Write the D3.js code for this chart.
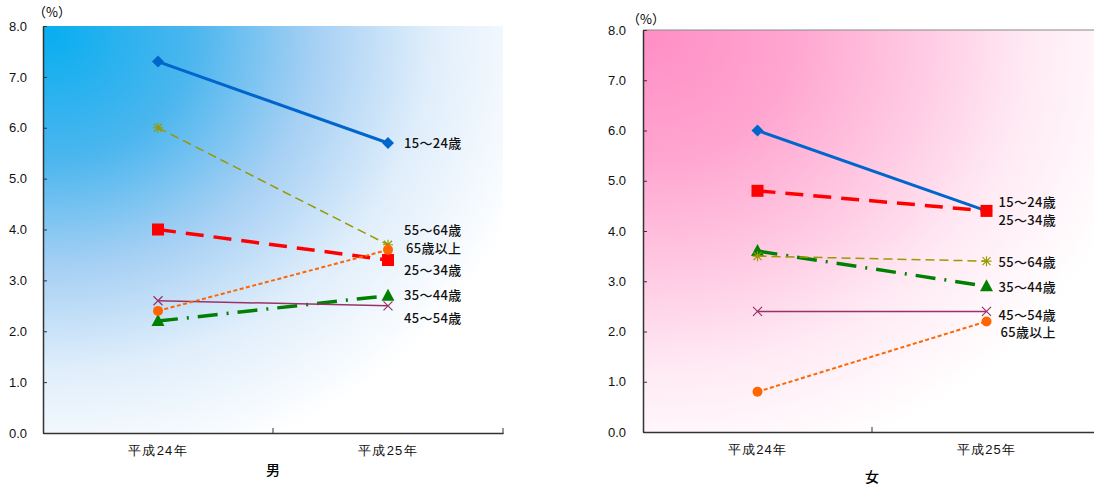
<!DOCTYPE html>
<html><head><meta charset="utf-8">
<script src="https://cdn.jsdelivr.net/npm/d3@7"></script>
<style>
body{margin:0;background:#fff;}
svg{display:block;font-family:"Noto Sans CJK JP","Noto Sans",sans-serif;}
</style></head><body>
<svg id="c" width="1094" height="485"></svg>
<script>
const categories = ["平成24年", "平成25年"];
const seriesNames = ["15〜24歳", "25〜34歳", "35〜44歳", "45〜54歳", "55〜64歳", "65歳以上"];
const maleValues = [[7.3, 5.7], [4.0, 3.4], [2.2, 2.7], [2.6, 2.5], [6.0, 3.7], [2.4, 3.6]];
const femaleValues = [[6.0, 4.4], [4.8, 4.4], [3.6, 2.9], [2.4, 2.4], [3.5, 3.4], [0.8, 2.2]];
const yTicks = [0, 1, 2, 3, 4, 5, 6, 7, 8];
const panelTitles = ["男", "女"];

// styles per series
const styles = [
  {color:"#0066cc", width:3,   dash:null,        marker:"diamond"},
  {color:"#ff0000", width:3.5, dash:"18,10",     marker:"square"},
  {color:"#008000", width:3.5, dash:"20,9,2,9",  marker:"triangle"},
  {color:"#993366", width:1.5, dash:null,        marker:"x"},
  {color:"#999900", width:1.5, dash:"9,5",       marker:"asterisk"},
  {color:"#ff6600", width:2,   dash:"4,2.5",     marker:"circle"}
];
// label vertical offsets (px) relative to last point
const maleLabelDy = [0, 10, 0, 13, -14, -1];
const femaleLabelDy = [-8, 10, 1, 4, 1, 11];

const svg = d3.select("#c");
const defs = svg.append("defs");
function grad(id, stops){
  const g = defs.append("radialGradient").attr("id", id)
    .attr("cx", 0.02).attr("cy", 0.02).attr("r", 1.1).attr("fx", 0.02).attr("fy", 0.02);
  stops.forEach(s => g.append("stop").attr("offset", s[0]).attr("stop-color", s[1]));
}
grad("gBlue", [[0, "#0aaef0"], [0.28, "#4cb6ee"], [0.52, "#a6d0f4"], [0.75, "#e0eefb"], [1, "#ffffff"]]);
grad("gPink", [[0, "#ff8fc6"], [0.28, "#ffa6d0"], [0.52, "#ffc8e2"], [0.75, "#ffeaf4"], [1, "#ffffff"]]);

function drawPanel(cfg){
  const {x0, x1, yTop, yBot, values, labelDy, labelGap, gradId, title, pctX, pctY, topBorder, titleY, tickPad} = cfg;
  const g = svg.append("g");
  const x = d3.scaleBand().domain(categories).range([x0, x1]);
  const y = d3.scaleLinear().domain([0, 8]).range([yBot, yTop]);
  g.append("rect").attr("x", x0).attr("y", yTop).attr("width", x1 - x0).attr("height", yBot - yTop)
    .attr("fill", `url(#${gradId})`);
  if (topBorder) g.append("line").attr("x1", x0).attr("x2", x1).attr("y1", yTop).attr("y2", yTop)
    .attr("stroke", "#888").attr("stroke-width", 1);
  // y axis
  const ya = g.append("g").attr("transform", `translate(${x0},0)`)
    .call(d3.axisLeft(y).tickValues(yTicks).tickFormat(d3.format(".1f")).tickSizeInner(-4).tickSizeOuter(0).tickPadding(tickPad));
  ya.select(".domain").attr("stroke", "#333").attr("stroke-width", 1.5);
  ya.selectAll(".tick line").attr("stroke", "#333");
  ya.selectAll(".tick text").attr("font-size", 13).attr("fill", "#111")
    .style("font-family", "'Liberation Sans', Arial, sans-serif");
  // x axis
  const xa = g.append("g").attr("transform", `translate(0,${yBot})`)
    .call(d3.axisBottom(x).tickSize(0).tickPadding(13));
  xa.select(".domain").attr("stroke", "#333").attr("stroke-width", 1.5);
  xa.selectAll(".tick text").attr("font-size", 13).attr("fill", "#111").attr("font-weight", 500)
    .style("letter-spacing", "1.2px");
  // category separators (inner ticks)
  const bounds = [x0 + x.bandwidth(), x1];
  g.selectAll(".sep").data(bounds).enter().append("line")
    .attr("x1", d => d).attr("x2", d => d).attr("y1", yBot - 5).attr("y2", yBot + 1)
    .attr("stroke", "#333");
  // title
  g.append("text").attr("x", (x0 + x1) / 2).attr("y", titleY).attr("dy", "0.35em").attr("text-anchor", "middle")
    .attr("font-size", 14).attr("font-weight", 500).text(title);
  g.append("text").attr("x", pctX).attr("y", pctY).attr("dy", "0.35em").attr("font-size", 13).text("（%）");

  const cx = d => x(d) + x.bandwidth() / 2;
  values.forEach((vals, i) => {
    const st = styles[i];
    const pts = categories.map((c, j) => [cx(c), y(vals[j])]);
    g.append("path").attr("d", d3.line()(pts)).attr("fill", "none")
      .attr("stroke", st.color).attr("stroke-width", st.width)
      .attr("stroke-dasharray", st.dash);
    pts.forEach(p => drawMarker(g, st, p));
    g.append("text").attr("x", pts[1][0] + labelGap + (seriesNames[i] === "65歳以上" ? 2 : 0)).attr("y", pts[1][1] + labelDy[i])
      .attr("dy", "0.35em").attr("font-size", 13).attr("font-weight", 500).attr("fill", "#111")
      .style("letter-spacing", "0.3px")
      .text(seriesNames[i]);
  });
}

function drawMarker(g, st, p){
  const [px, py] = p;
  const c = st.color;
  if (st.marker === "diamond") {
    g.append("path").attr("d", d3.symbol(d3.symbolSquare, 72)()).attr("fill", c)
      .attr("transform", `translate(${px},${py}) rotate(45)`);
  } else if (st.marker === "square") {
    g.append("rect").attr("x", px - 6).attr("y", py - 6).attr("width", 12).attr("height", 12).attr("fill", c);
  } else if (st.marker === "triangle") {
    g.append("path").attr("d", `M${px},${py-7}L${px+6.5},${py+5}L${px-6.5},${py+5}Z`).attr("fill", c);
  } else if (st.marker === "circle") {
    g.append("circle").attr("cx", px).attr("cy", py).attr("r", 5).attr("fill", c);
  } else if (st.marker === "x") {
    g.append("path").attr("d", `M${px-4.5},${py-4.5}L${px+4.5},${py+4.5}M${px-4.5},${py+4.5}L${px+4.5},${py-4.5}`)
      .attr("stroke", c).attr("stroke-width", 1.2);
  } else if (st.marker === "asterisk") {
    g.append("path").attr("d", `M${px-4},${py-4}L${px+4},${py+4}M${px-4},${py+4}L${px+4},${py-4}M${px},${py-5}L${px},${py+5}M${px-5},${py}L${px+5},${py}`)
      .attr("stroke", c).attr("stroke-width", 1.2);
  }
}

drawPanel({x0:43, x1:503, yTop:26, yBot:433, values:maleValues, labelDy:maleLabelDy, labelGap:16,
  gradId:"gBlue", title:panelTitles[0], pctX:33, pctY:12, topBorder:false, titleY:470, tickPad:16});
drawPanel({x0:643, x1:1101, yTop:30, yBot:432, values:femaleValues, labelDy:femaleLabelDy, labelGap:12,
  gradId:"gPink", title:panelTitles[1], pctX:627, pctY:19, topBorder:true, titleY:477, tickPad:17});
</script>
</body></html>
